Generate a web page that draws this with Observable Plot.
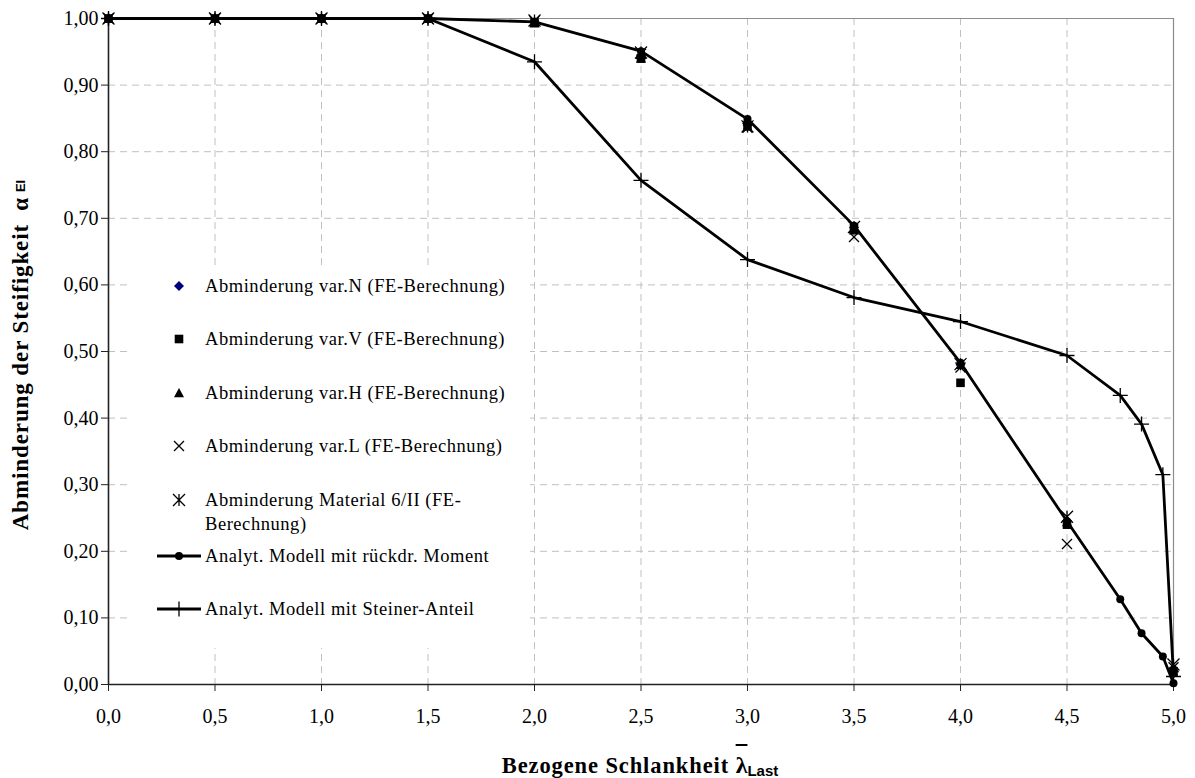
<!DOCTYPE html>
<html><head><meta charset="utf-8">
<script src="https://cdn.jsdelivr.net/npm/d3@7"></script>
<script src="https://cdn.jsdelivr.net/npm/@observablehq/plot@0.6"></script>
<style>body{margin:0;background:#fff} #chart svg{display:block}</style>
</head><body><div id="chart"></div>
<script>
// ---- data ----
const feX = [0, 0.5, 1, 1.5, 2, 2.5, 3, 3.5, 4, 4.5, 5];
const varN = [1, 1, 1, 1, 0.995, 0.945, 0.840, 0.686, 0.480, 0.246, 0.020];
const varV = [1, 1, 1, 1, 0.994, 0.940, 0.840, 0.685, 0.453, 0.240, 0.020];
const varH = [1, 1, 1, 1, 0.993, 0.940, 0.838, 0.682, 0.480, 0.244, 0.018];
const varL = [1, 1, 1, 1, 0.996, 0.947, 0.836, 0.672, 0.476, 0.211, 0.026];
const mat6 = [1, 1, 1, 1, 0.997, 0.949, 0.838, 0.687, 0.481, 0.252, 0.030];
const modelX = [0, 0.5, 1, 1.5, 2, 2.5, 3, 3.5, 4, 4.5, 4.75, 4.85, 4.95, 5];
const momentY = [1, 1, 1, 1, 0.995, 0.951, 0.849, 0.689, 0.483, 0.245, 0.128, 0.077, 0.042, 0.002];
const steinerY = [1, 1, 1, 1, 0.935, 0.757, 0.638, 0.581, 0.545, 0.494, 0.434, 0.391, 0.315, 0.012];
const xTicks = [0, 0.5, 1, 1.5, 2, 2.5, 3, 3.5, 4, 4.5, 5];
const yTicks = [0, 0.1, 0.2, 0.3, 0.4, 0.5, 0.6, 0.7, 0.8, 0.9, 1];
const seriesNames = [
  "Abminderung var.N (FE-Berechnung)",
  "Abminderung var.V (FE-Berechnung)",
  "Abminderung var.H (FE-Berechnung)",
  "Abminderung var.L (FE-Berechnung)",
  "Abminderung Material 6/II (FE-|Berechnung)",
  "Analyt. Modell mit rückdr. Moment",
  "Analyt. Modell mit Steiner-Anteil"
];
const xTitle = ["Bezogene Schlankheit ", "λ", "Last"];
const yTitle = ["Abminderung der Steifigkeit\u00a0\u00a0", "α", "\u00a0", "EI"];

// ---- symbols (half-size = sqrt(size/π)) ----
const hs = s => Math.sqrt(s / Math.PI);
const symDiamond = {draw(c, s) { const r = hs(s); c.moveTo(0, -r); c.lineTo(r, 0); c.lineTo(0, r); c.lineTo(-r, 0); c.closePath(); }};
const symSquare = {draw(c, s) { const r = hs(s); c.rect(-r, -r, 2 * r, 2 * r); }};
const symTriangle = {draw(c, s) { const r = hs(s); c.moveTo(0, -r); c.lineTo(r, r * 0.85); c.lineTo(-r, r * 0.85); c.closePath(); }};
const symTimes = {draw(c, s) { const r = hs(s); c.moveTo(-r, -r); c.lineTo(r, r); c.moveTo(-r, r); c.lineTo(r, -r); }};
const symStar = {draw(c, s) { const r = hs(s); c.moveTo(-r, -r); c.lineTo(r, r); c.moveTo(-r, r); c.lineTo(r, -r); c.moveTo(0, -r); c.lineTo(0, r); }};
const symPlus = {draw(c, s) { const r = hs(s); c.moveTo(-r, 0); c.lineTo(r, 0); c.moveTo(0, -r); c.lineTo(0, r); }};
const symCircle = d3.symbolCircle;

const fe = ys => feX.map((x, i) => ({x, y: ys[i]}));
const model = ys => modelX.map((x, i) => ({x, y: ys[i]}));
const fmtX = d => d.toFixed(1).replace(".", ",");
const fmtY = d => d.toFixed(2).replace(".", ",");

const styles = [
  {sym: symDiamond, r: 5, fill: "#000080", stroke: "none"},
  {sym: symSquare, r: 4.3, fill: "black", stroke: "none"},
  {sym: symTriangle, r: 5, fill: "black", stroke: "none"},
  {sym: symTimes, r: 5, fill: "none", stroke: "black"},
  {sym: symStar, r: 6, fill: "none", stroke: "black"},
  {sym: symCircle, r: 4, fill: "black", stroke: "none"},
  {sym: symPlus, r: 7.5, fill: "none", stroke: "black"}
];
const dotMark = (data, st) => Plot.dot(data, {x: "x", y: "y", symbol: () => st.sym, r: st.r, fill: st.fill, stroke: st.stroke, strokeWidth: 1.3});

const feSeries = [varN, varV, varH, varL, mat6];

const chart = Plot.plot({
  width: 1195, height: 778,
  marginLeft: 108, marginRight: 22, marginTop: 18, marginBottom: 94,
  style: {fontFamily: "'Liberation Serif','Times New Roman',serif", fontSize: "20px", color: "black", background: "white", overflow: "visible"},
  x: {domain: [0, 5], label: null},
  y: {domain: [0, 1], label: null},
  symbol: {type: "identity"},
  marks: [
    Plot.gridX(xTicks.slice(1, -1), {stroke: "#c0c0c0", strokeOpacity: 1, strokeDasharray: "7,5"}),
    Plot.gridY(yTicks.slice(1, -1), {stroke: "#c0c0c0", strokeOpacity: 1, strokeDasharray: "7,5"}),
    Plot.ruleY([1], {stroke: "#8c8c8c", strokeWidth: 1.2}),
    Plot.ruleX([5], {stroke: "#8c8c8c", strokeWidth: 1.2}),
    Plot.axisX(xTicks, {tickFormat: fmtX, tickSize: 7, tickPadding: 17, label: null, stroke: "#222"}),
    Plot.axisY(yTicks, {tickFormat: fmtY, tickSize: 7, tickPadding: 3, label: null, stroke: "#222"}),
    Plot.ruleX([0], {stroke: "#222", strokeWidth: 1.6}),
    Plot.ruleY([0], {stroke: "#222", strokeWidth: 1.6}),
    ...feSeries.map((ys, i) => dotMark(fe(ys), styles[i])),
    Plot.line(model(momentY), {x: "x", y: "y", stroke: "black", strokeWidth: 2.8}),
    dotMark(model(momentY), styles[5]),
    Plot.line(model(steinerY), {x: "x", y: "y", stroke: "black", strokeWidth: 2.8}),
    dotMark(model(steinerY), styles[6])
  ]
});
document.getElementById("chart").append(chart);

// ---- legend (inside plot, white box) ----
const svg = d3.select(chart);
const lg = svg.append("g").attr("text-anchor", "start");
lg.append("rect").attr("x", 128).attr("y", 270).attr("width", 402).attr("height", 378)
  .attr("fill", "#ffffff").style("fill", "#ffffff").style("stroke", "none");
const rowY = [286, 339, 393, 446, 500, 556, 609];
seriesNames.forEach((name, i) => {
  const st = styles[i];
  const y = rowY[i];
  if (i >= 5) {
    lg.append("line").attr("x1", 157).attr("x2", 201).attr("y1", y).attr("y2", y).attr("stroke", "black").attr("stroke-width", 2.8);
  }
  lg.append("path").attr("transform", `translate(179,${y})`)
    .attr("d", d3.symbol(st.sym, Math.PI * st.r * st.r)())
    .attr("fill", st.fill).attr("stroke", st.stroke).attr("stroke-width", 1.3);
  const parts = name.split("|");
  parts.forEach((p, j) => {
    lg.append("text").attr("x", 205).attr("y", y + j * 24).attr("dy", "0.35em").attr("text-anchor", "start")
      .attr("font-family", "'Liberation Serif','Times New Roman',serif").attr("font-size", 18.5)
      .attr("letter-spacing", 0.55).attr("fill", "black").text(p);
  });
});

// ---- axis titles ----
const xt = svg.append("text").attr("x", 640).attr("y", 773).attr("text-anchor", "middle").attr("fill", "black");
xt.append("tspan").attr("font-family", "'Liberation Serif',serif").attr("font-weight", "bold").attr("font-size", 22.5).attr("letter-spacing", 0.9).text(xTitle[0]);
xt.append("tspan").attr("font-family", "'Liberation Serif',serif").attr("font-weight", "bold").attr("font-size", 24).text(xTitle[1]);
xt.append("tspan").attr("font-family", "'Liberation Sans',Arial,sans-serif").attr("font-weight", "bold").attr("font-size", 15).attr("dy", 3).text(xTitle[2]);
try {
  const ext = xt.node().getExtentOfChar(xTitle[0].length);
  svg.append("line").attr("x1", ext.x).attr("x2", ext.x + ext.width).attr("y1", 745).attr("y2", 745).attr("stroke", "black").attr("stroke-width", 2);
} catch (e) {}

const yt = svg.append("text").attr("transform", "translate(28,355) rotate(-90)").attr("text-anchor", "middle").attr("fill", "black");
yt.append("tspan").attr("font-family", "'Liberation Serif',serif").attr("font-weight", "bold").attr("font-size", 23).attr("letter-spacing", 0.9).text(yTitle[0]);
yt.append("tspan").attr("font-family", "'Liberation Serif',serif").attr("font-weight", "bold").attr("font-size", 23).text(yTitle[1]);
yt.append("tspan").attr("font-size", 23).text(yTitle[2]);
yt.append("tspan").attr("font-family", "'Liberation Sans',Arial,sans-serif").attr("font-weight", "bold").attr("font-size", 13).attr("dy", -3).text(yTitle[3]);
</script>
</body></html>
